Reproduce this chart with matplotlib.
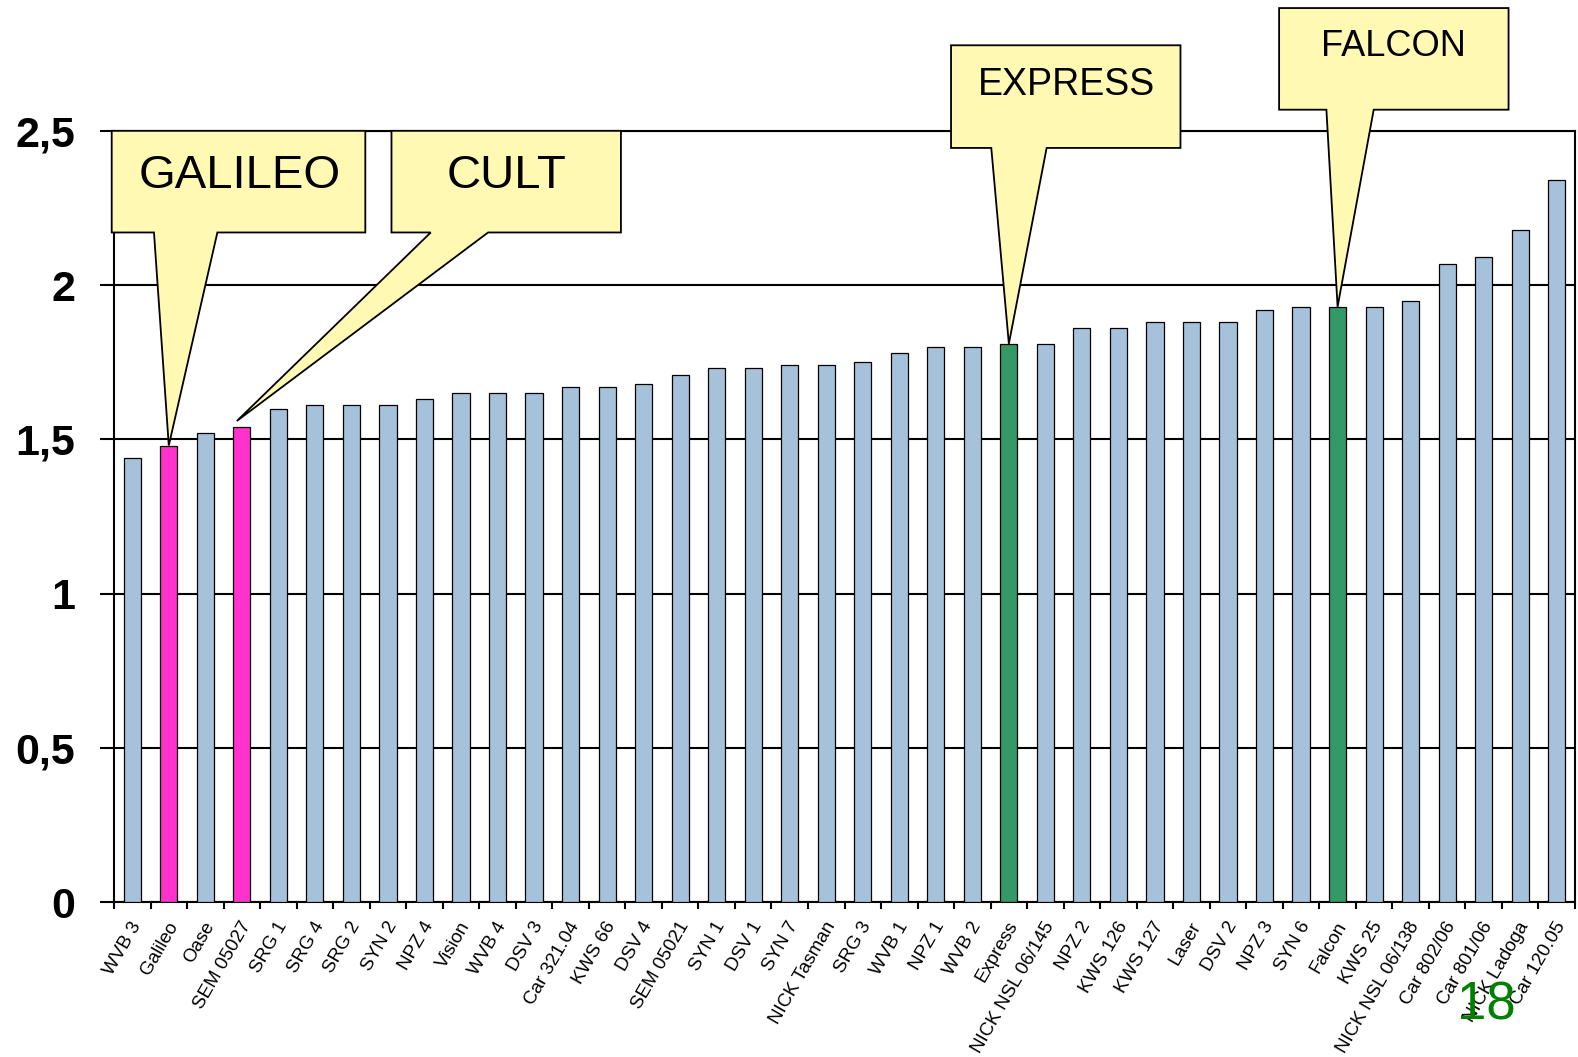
import matplotlib
matplotlib.use("Agg")
import matplotlib.pyplot as plt
from matplotlib.patches import Polygon
from matplotlib.transforms import IdentityTransform, ScaledTranslation

categories = ["WVB 3", "Galileo", "Oase", "SEM 05027", "SRG 1", "SRG 4", "SRG 2", "SYN 2",
              "NPZ 4", "Vision", "WVB 4", "DSV 3", "Car 321.04", "KWS 66", "DSV 4", "SEM 05021",
              "SYN 1", "DSV 1", "SYN 7", "NICK Tasman", "SRG 3", "WVB 1", "NPZ 1", "WVB 2",
              "Express", "NICK NSL 06/145", "NPZ 2", "KWS 126", "KWS 127", "Laser", "DSV 2",
              "NPZ 3", "SYN 6", "Falcon", "KWS 25", "NICK NSL 06/138", "Car 802/06",
              "Car 801/06", "NICK Ladoga", "Car 120.05"]
values = [1.44, 1.48, 1.52, 1.54, 1.60, 1.61, 1.61, 1.61,
          1.63, 1.65, 1.65, 1.65, 1.67, 1.67, 1.68, 1.71,
          1.73, 1.73, 1.74, 1.74, 1.75, 1.78, 1.80, 1.80,
          1.81, 1.81, 1.86, 1.86, 1.88, 1.88, 1.88,
          1.92, 1.93, 1.93, 1.93, 1.95, 2.07,
          2.09, 2.18, 2.34]
highlight_pink = ["Galileo", "SEM 05027"]
highlight_green = ["Express", "Falcon"]
y_ticks = [0, 0.5, 1, 1.5, 2, 2.5]
y_ticklabels = ["0", "0,5", "1", "1,5", "2", "2,5"]
callout_texts = ["GALILEO", "CULT", "EXPRESS", "FALCON"]
callout_targets = ["Galileo", "SEM 05027", "Express", "Falcon"]
page_number = "18"

W, H = 1578, 1057
fig = plt.figure(figsize=(W / 100, H / 100), dpi=100)
plt.rcParams['font.family'] = ['Liberation Sans', 'DejaVu Sans']
ax = fig.add_axes([114 / W, 1 - 902 / H, (1575 - 114) / W, (902 - 131) / H])

colors = []
for c in categories:
    if c in highlight_pink:
        colors.append("#FF33CC")
    elif c in highlight_green:
        colors.append("#339966")
    else:
        colors.append("#A6C2DA")
x = list(range(len(categories)))
ax.bar(x, values, width=0.47, color=colors, edgecolor="black", linewidth=0.9, zorder=3)

ax.set_xlim(-0.5, len(categories) - 0.5)
ax.set_ylim(0, 2.5)
ax.set_yticks(y_ticks)
ax.set_yticklabels(y_ticklabels, fontsize=31, fontweight="bold")
ax.yaxis.grid(True, color="black", linewidth=1.5, zorder=1)
ax.set_axisbelow(True)
ax.tick_params(axis="y", length=10, width=1.5, pad=18, direction="out")

ax.set_xticks(x)
ax.set_xticklabels(categories, rotation=60, ha="right", va="center",
                   rotation_mode="anchor", fontsize=13.5)
ax.tick_params(axis="x", which="major", length=0, pad=15)
shift = ScaledTranslation(5 / 100, 0, fig.dpi_scale_trans)
for lbl in ax.get_xticklabels():
    lbl.set_transform(lbl.get_transform() + shift)
ax.set_xticks([i - 0.5 for i in range(len(categories) + 1)], minor=True)
ax.tick_params(axis="x", which="minor", length=5, width=1.5, direction="out")
for s in ax.spines.values():
    s.set_linewidth(1.5)
    s.set_color("black")

S = W / 1568.0
def P(px, py):
    return (px * S, H - py * S)

# callout layout (reference pixel coordinates)
boxes = [(111, 130, 363, 231), (389, 130, 617, 231), (945, 45, 1173, 147), (1271, 8, 1499, 109)]
wedges = [(153, 216), (428, 485), (985, 1040), (1318, 1365)]
tip_offsets = [(0, 0), (-5, -6), (0, 0), (0, 0)]
text_pos = [(238, 187), (503, 187), (1060, 94), (1385, 56)]
text_sizes = [34, 34, 27, 26]

fig.canvas.draw()
for text, target, box, wg, off, tp, fs in zip(callout_texts, callout_targets, boxes, wedges,
                                                 tip_offsets, text_pos, text_sizes):
    i = categories.index(target)
    tx, ty = ax.transData.transform((i, values[i]))
    tx += off[0] * S
    ty -= off[1] * S
    x0, y0, x1, y1 = box
    pts = [P(x0, y0), P(x1, y0), P(x1, y1), P(wg[1], y1), (tx, ty), P(wg[0], y1), P(x0, y1)]
    poly = Polygon(pts, closed=True, facecolor="#FFF9B3", edgecolor="black", linewidth=1.3,
                   transform=IdentityTransform(), zorder=5)
    fig.add_artist(poly)
    px, py = P(*tp)
    fig.text(px / W, py / H, text, fontsize=fs, ha="center", va="baseline", zorder=6)

px, py = P(1477, 1013)
fig.text(px / W, py / H, page_number, fontsize=38, color="#008000", ha="center",
         va="baseline", zorder=6)

fig.savefig("out.png", dpi=100)
